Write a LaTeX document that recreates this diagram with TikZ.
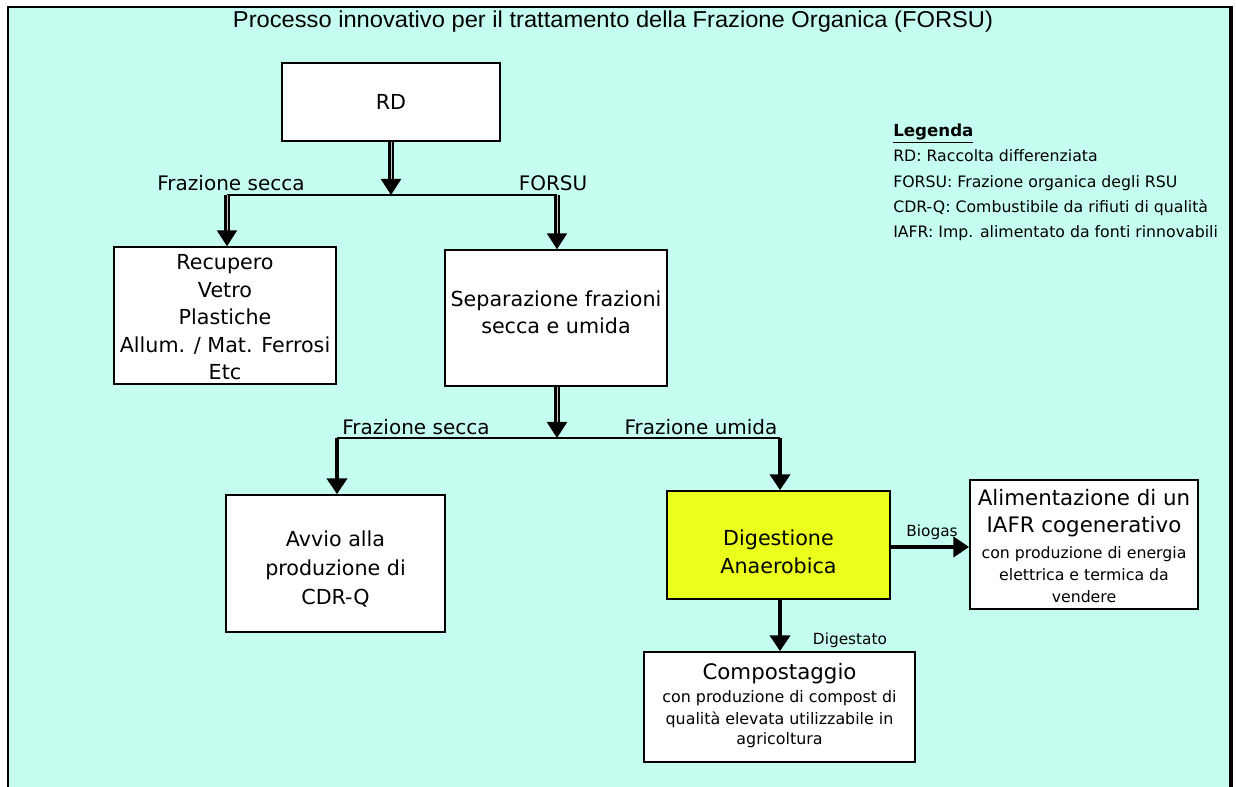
\documentclass[tikz,border=0pt]{standalone}
\usepackage{graphicx}
\usepackage{fontspec}
\setmainfont{DejaVu Sans}
\newfontfamily\titlefont{Liberation Sans}
\usetikzlibrary{arrows.meta}
\definecolor{bgcyan}{RGB}{197,254,240}
\definecolor{digyellow}{RGB}{234,255,28}
\newcommand{\lowr}[2]{\raisebox{-#1}[\height][\depth]{#2}}
\begin{document}
\begin{tikzpicture}[x=0.75pt,y=-0.75pt,
  box/.style={draw=black,line width=1.1pt,fill=white,inner sep=2pt,align=center},
  mainfont/.style={font=\fontsize{15.5}{20.6}\selectfont},
  dbl/.style={draw=black,line width=1.7pt,double=gray!45,double distance=0.5pt,-{Triangle[width=15pt,length=12pt]}},
  thk/.style={draw=black,line width=3.4pt,-{Triangle[width=15pt,length=12pt]}},
  thinline/.style={draw=black,line width=0.8pt},
  flow/.style={font=\fontsize{15}{18}\selectfont,inner sep=0pt},
  small/.style={font=\fontsize{11.5}{14}\selectfont,inner sep=0pt},
]
\useasboundingbox (0,0) rectangle (1236,787);
% background panel
\fill[bgcyan] (8,7) rectangle (1231,787);
\draw[black,line width=1.8pt] (8,787) -- (8,7) -- (1231,7);
\draw[black,line width=3pt] (1231,6) -- (1231,787);

% title
\node[inner sep=0pt] (title) at (613,22)
  {\resizebox{570pt}{12.5pt}{\titlefont\fontsize{14.5}{16}\selectfont Processo innovativo per il trattamento della Frazione Organica (FORSU)}};

% legend
\node[anchor=west,align=left,inner sep=0pt,font=\fontsize{11.8}{19}\selectfont] (legend) at (893,182.5)
  {\underline{\textbf{\fontsize{12.5}{19}\selectfont Legenda}}\\
   RD: Raccolta differenziata\\
   FORSU: Frazione organica degli RSU\\
   CDR-Q: Combustibile da rifiuti di qualità\\
   IAFR: Imp. alimentato da fonti rinnovabili};

% boxes
\node[box,mainfont,minimum width=163.5pt,minimum height=58.5pt] (rd) at (391,102) {RD};
\node[box,minimum width=166.5pt,minimum height=102.75pt,font=\fontsize{15.5}{20.6}\selectfont] (rec) at (225,315.5)
  {\lowr{1.5pt}{Recupero}\\\lowr{1.5pt}{Vetro}\\\lowr{1.5pt}{Plastiche}\\\lowr{1.5pt}{Allum. / Mat. Ferrosi}\\\lowr{1.5pt}{Etc}};
\node[box,minimum width=166.5pt,minimum height=102pt,font=\fontsize{15.5}{20.25}\selectfont] (sep) at (556,318)
  {\lowr{-4pt}{Separazione frazioni}\\\lowr{-4pt}{secca e umida}};
\node[box,minimum width=164.25pt,minimum height=102.75pt,font=\fontsize{15.5}{22}\selectfont] (avv) at (335.5,563.5)
  {\lowr{4pt}{Avvio alla}\\\lowr{4pt}{produzione di}\\\lowr{4pt}{CDR-Q}};
\node[box,fill=digyellow,minimum width=167.25pt,minimum height=81pt,font=\fontsize{15.5}{21}\selectfont] (dig) at (778.5,545)
  {\lowr{5pt}{Digestione}\\\lowr{5pt}{Anaerobica}};
\node[box,minimum width=171pt,minimum height=96.75pt,font=\fontsize{11.8}{16.5}\selectfont] (iafr) at (1084,544.5)
  {\fontsize{16}{16.5}\selectfont \lowr{1.5pt}{Alimentazione di un}\\[3.75pt]
   \fontsize{16}{16.5}\selectfont \lowr{1.5pt}{IAFR cogenerativo}\\[3pt]
   \lowr{1pt}{con produzione di energia}\\
   \lowr{1pt}{elettrica e termica da}\\
   \lowr{1pt}{vendere}};
\node[box,minimum width=203.25pt,minimum height=82.5pt,font=\fontsize{11.9}{16.25}\selectfont] (comp) at (779.5,707)
  {\fontsize{16}{16.25}\selectfont \lowr{0pt}{Compostaggio}\\[2pt]
   \lowr{-1pt}{con produzione di compost di}\\
   \lowr{-1pt}{qualità elevata utilizzabile in}\\
   \lowr{-2pt}{agricoltura}};

% junctions
\coordinate (j1) at (391,195);
\coordinate (l1) at (227,195);
\coordinate (r1) at (557,195);
\coordinate (j2) at (557,438);
\coordinate (l2) at (337,438);
\coordinate (r2) at (780,438);

% connectors
\draw[thinline] (l1) -- (r1);
\draw[dbl] (rd.south -| j1) -- (j1);
\draw[dbl] (l1) -- (l1 |- rec.north);
\draw[dbl] (r1) -- (r1 |- sep.north);
\draw[dbl] (sep.south -| j2) -- (j2);
\draw[thinline] (l2) -- (r2);
\draw[thk] (l2) -- (l2 |- avv.north);
\draw[thk] (r2) -- (r2 |- dig.north);
\draw[thk] (dig.east |- 0,547) -- (iafr.west |- 0,547);
\draw[thk] (dig.south -| r2) -- (comp.north -| r2);

% flow labels
\node[flow] (lbfs1) at (231,183) {Frazione secca};
\node[flow] (lbforsu) at (553,183) {FORSU};
\node[flow] (lbfs2) at (416,427) {Frazione secca};
\node[flow] (lbfu) at (701,427) {Frazione umida};
\node[small] (lbbio) at (932,532) {Biogas};
\node[small] (lbdig) at (850,640) {Digestato};
\end{tikzpicture}
\end{document}
